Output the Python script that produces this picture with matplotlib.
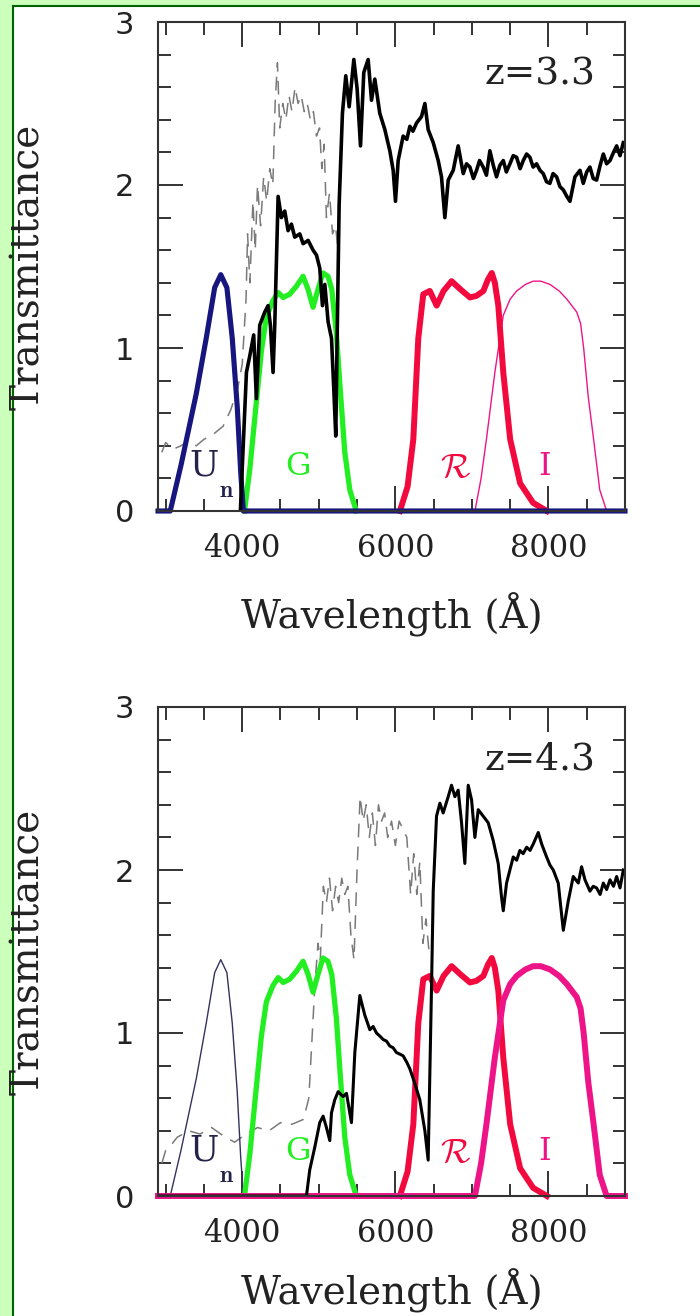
import matplotlib
matplotlib.use("Agg")
import matplotlib.pyplot as plt
from matplotlib.patches import Rectangle
from matplotlib.ticker import MultipleLocator

plt.rcParams["mathtext.fontset"] = "cm"

# filter curves (wavelength in Angstrom, transmittance)
un_wave = [2900, 3060, 3200, 3300, 3400, 3530, 3640, 3720, 3800, 3870, 3935, 3980, 4015, 9000]
un_trans = [0, 0, 0.28, 0.5, 0.72, 1.06, 1.37, 1.45, 1.37, 1.06, 0.64, 0.24, 0, 0]

g_wave = [4030, 4100, 4185, 4250, 4315, 4400, 4470, 4535, 4620, 4710, 4795, 4860, 4925,
          4990, 5055, 5120, 5170, 5230, 5275, 5340, 5405, 5490]
g_trans = [0, 0.26, 0.67, 0.98, 1.19, 1.29, 1.34, 1.31, 1.33, 1.38, 1.44, 1.36, 1.25,
           1.36, 1.46, 1.44, 1.36, 1.09, 0.78, 0.36, 0.13, 0]

r_wave = [6060, 6160, 6235, 6300, 6365, 6450, 6540, 6630, 6735, 6850, 6975, 7060, 7150,
          7210, 7260, 7300, 7345, 7410, 7500, 7630, 7800, 7980]
r_trans = [0, 0.15, 0.44, 1.06, 1.33, 1.35, 1.26, 1.35, 1.41, 1.36, 1.31, 1.32, 1.35,
           1.42, 1.46, 1.4, 1.26, 0.85, 0.44, 0.17, 0.05, 0]

i_wave = [2900, 7040, 7120, 7190, 7300, 7410, 7500, 7585, 7700, 7800, 7900, 8020, 8140,
          8240, 8370, 8420, 8460, 8520, 8590, 8670, 8760, 9000]
i_trans = [0, 0, 0.2, 0.44, 0.85, 1.2, 1.3, 1.35, 1.39, 1.41, 1.41, 1.39, 1.35,
           1.3, 1.22, 1.15, 1.0, 0.7, 0.44, 0.13, 0, 0]

# galaxy spectrum at z=3.3
spec33_wave = [3976, 4055, 4098, 4150, 4185, 4229, 4294, 4338, 4368, 4403, 4425, 4469, 4512,
               4556, 4599, 4643, 4686, 4752, 4795, 4861, 4926, 4970, 5013, 5048, 5079, 5122,
               5166, 5196, 5222, 5240, 5266, 5309, 5353, 5397, 5458, 5501, 5545, 5588, 5645,
               5689, 5732, 5797, 5863, 5928, 5972, 6002, 6037, 6102, 6150, 6190, 6230, 6277,
               6342, 6386, 6429, 6495, 6560, 6603, 6647, 6691, 6756, 6821, 6887, 6930, 6974,
               7020, 7061, 7100, 7148, 7190, 7235, 7280, 7322, 7365, 7410, 7450, 7497, 7540,
               7584, 7630, 7671, 7715, 7758, 7800, 7845, 7890, 7932, 7975, 8019, 8060, 8107,
               8150, 8194, 8240, 8281, 8346, 8412, 8455, 8500, 8542, 8585, 8629, 8675, 8717,
               8760, 8804, 8850, 8891, 8935, 8978]
spec33_trans = [0, 0.85, 0.95, 1.08, 0.69, 1.14, 1.22, 1.26, 1.14, 0.85, 1.14, 1.93, 1.80,
                1.84, 1.72, 1.76, 1.68, 1.70, 1.64, 1.66, 1.60, 1.57, 1.49, 1.26, 1.39, 1.16,
                1.06, 0.75, 0.46, 1.06, 1.88, 2.44, 2.67, 2.48, 2.77, 2.59, 2.24, 2.69, 2.77,
                2.52, 2.65, 2.44, 2.34, 2.21, 2.09, 1.90, 2.15, 2.30, 2.28, 2.36, 2.33, 2.38,
                2.42, 2.50, 2.34, 2.26, 2.15, 2.05, 1.80, 2.03, 2.09, 2.24, 2.07, 2.13, 2.11,
                2.04, 2.09, 2.15, 2.11, 2.06, 2.21, 2.12, 2.05, 2.12, 2.15, 2.08, 2.13, 2.18,
                2.17, 2.10, 2.15, 2.19, 2.17, 2.11, 2.13, 2.09, 2.07, 2.02, 2.01, 2.07, 2.05,
                1.99, 1.97, 1.93, 1.90, 2.05, 2.09, 2.01, 2.08, 2.11, 2.04, 2.03, 2.12, 2.19,
                2.13, 2.15, 2.20, 2.24, 2.18, 2.26]

# unattenuated spectrum at z=3.3 (dashed)
free33_wave = [2950, 3000, 3100, 3200, 3300, 3400, 3500, 3620, 3750, 3850, 3940, 4000, 4050,
               4070, 4100, 4140, 4170, 4200, 4240, 4280, 4320, 4360, 4400, 4430, 4460, 4490,
               4530, 4570, 4610, 4650, 4690, 4730, 4770, 4810, 4850, 4890, 4930, 4970, 5010,
               5040, 5070, 5100, 5140, 5180, 5220, 5250]
free33_trans = [0.36, 0.42, 0.38, 0.40, 0.43, 0.40, 0.44, 0.47, 0.52, 0.62, 0.75, 0.9, 1.3,
                1.7, 1.4, 1.9, 1.6, 2.0, 1.75, 2.05, 1.9, 2.1, 2.0, 2.5, 2.75, 2.35,
                2.5, 2.4, 2.55, 2.45, 2.6, 2.5, 2.55, 2.45, 2.5, 2.4, 2.45, 2.3, 2.35,
                2.1, 2.25, 1.8, 1.95, 1.7, 1.75, 1.6]

# galaxy spectrum at z=4.3
spec43_wave = [2900, 4839, 4882, 4948, 5013, 5057, 5100, 5144, 5166, 5209, 5253, 5318, 5362,
               5427, 5471, 5536, 5601, 5667, 5710, 5754, 5800, 5841, 5885, 5928, 5970, 6015,
               6060, 6102, 6150, 6190, 6255, 6320, 6386, 6429, 6473, 6495, 6538, 6582, 6625,
               6691, 6734, 6778, 6821, 6865, 6908, 6952, 6996, 7039, 7083, 7148, 7213, 7279,
               7344, 7388, 7410, 7453, 7540, 7585, 7627, 7670, 7715, 7760, 7802, 7867, 7911,
               7976, 8020, 8063, 8128, 8194, 8259, 8324, 8390, 8433, 8477, 8542, 8585, 8629,
               8675, 8717, 8760, 8804, 8850, 8891, 8935, 8978]
spec43_trans = [0, 0, 0.16, 0.30, 0.45, 0.49, 0.42, 0.34, 0.51, 0.59, 0.64, 0.61, 0.63,
                0.45, 0.88, 1.23, 1.11, 1.02, 1.04, 1.00, 0.98, 0.96, 0.95, 0.92, 0.91, 0.88,
                0.87, 0.86, 0.82, 0.78, 0.69, 0.59, 0.40, 0.22, 1.29, 1.87, 2.33, 2.41, 2.35,
                2.45, 2.52, 2.45, 2.49, 2.29, 2.04, 2.52, 2.43, 2.20, 2.37, 2.33, 2.29, 2.18,
                2.04, 1.83, 1.75, 1.92, 2.08, 2.06, 2.12, 2.10, 2.14, 2.12, 2.16, 2.23, 2.16,
                2.08, 2.03, 2.00, 1.92, 1.63, 1.81, 1.96, 1.92, 2.02, 1.94, 1.87, 1.90, 1.89,
                1.85, 1.92, 1.88, 1.94, 1.90, 1.96, 1.89, 2.00]

# unattenuated spectrum at z=4.3 (dashed)
free43_wave = [2950, 3000, 3050, 3150, 3300, 3450, 3600, 3750, 3900, 4050, 4200, 4350, 4500,
               4650, 4800, 4870, 4910, 4950, 4990, 5020, 5060, 5100, 5140, 5180, 5220, 5260,
               5300, 5340, 5380, 5420, 5460, 5500, 5540, 5580, 5620, 5660, 5700, 5740, 5780,
               5820, 5860, 5900, 5950, 6000, 6050, 6100, 6150, 6200, 6240, 6280, 6320, 6360,
               6400, 6440]
free43_trans = [0.2, 0.28, 0.3, 0.36, 0.4, 0.38, 0.42, 0.37, 0.33, 0.38, 0.42, 0.4, 0.45,
                0.44, 0.47, 0.6, 0.95, 1.3, 1.55, 1.45, 1.9, 1.8, 1.95, 1.75, 1.9, 1.8,
                1.95, 1.85, 1.9, 1.6, 1.45, 2.0, 2.45, 2.3, 2.4, 2.2, 2.35, 2.15, 2.4,
                2.3, 2.35, 2.2, 2.3, 2.15, 2.3, 2.25, 2.2, 1.85, 2.1, 1.85, 2.05, 1.55,
                1.7, 1.5]

redshift_labels = ["z=3.3", "z=4.3"]

NAVY = "#16167e"
GREEN = "#22ee22"
RED = "#f20a3e"
MAGENTA = "#ee1488"
DASH = (0, (9, 6))
W, H = 700, 1316

fig = plt.figure(figsize=(W / 100, H / 100), dpi=100)
fig.patch.set_facecolor("#ccffbb")
fig.add_artist(Rectangle((12.5 / W, -0.05), 1.1, 1 - 6 / H + 0.05, transform=fig.transFigure,
                         facecolor="white", edgecolor="#006400", linewidth=1.5, zorder=-1))

def style_axes(ax, xlabel_y):
    ax.set_xlim(2900, 9000)
    ax.set_ylim(0, 3)
    ax.set_xticks([4000, 6000, 8000])
    ax.set_yticks([0, 1, 2, 3])
    ax.xaxis.set_minor_locator(MultipleLocator(500))
    ax.yaxis.set_minor_locator(MultipleLocator(0.2))
    ax.tick_params(which="both", direction="in", top=True, right=True, color="#333333", width=1.4)
    ax.tick_params(which="major", length=18)
    ax.tick_params(which="minor", length=9)
    ax.tick_params(axis="x", labelsize=22, pad=16, labelcolor="#222222")
    ax.tick_params(axis="y", labelsize=22, pad=17, labelcolor="#222222")
    for lab in ax.get_xticklabels():
        lab.set_fontfamily("DejaVu Serif")
    for lab in ax.get_yticklabels():
        lab.set_fontfamily("DejaVu Sans")
    for sp in ax.spines.values():
        sp.set_color("#333333")
        sp.set_linewidth(1.5)
    ax.set_xlabel("Wavelength (Å)", fontsize=28, family="DejaVu Serif", color="#222222", va="center")
    ax.xaxis.set_label_coords(0.5, xlabel_y)
    ax.set_ylabel("Transmittance", fontsize=28, family="DejaVu Serif", color="#222222", va="center")
    ax.yaxis.set_label_coords(-0.276, 0.5)

def filter_labels(ax, z_text):
    ax.text(3500, 0.28, "U", fontsize=25, family="DejaVu Serif", color="#22224a", ha="center", va="center")
    ax.text(3790, 0.13, r"$\mathbf{n}$", fontsize=17, color="#22224a", ha="center", va="center")
    ax.text(4730, 0.27, "G", fontsize=23, family="DejaVu Serif", color=GREEN, ha="center", va="center")
    ax.text(6790, 0.27, r"$\mathcal{R}$", fontsize=25, color=RED, ha="center", va="center")
    ax.text(7955, 0.27, "I", fontsize=23, family="DejaVu Serif", color=MAGENTA, ha="center", va="center")
    ax.text(8610, 2.68, z_text, fontsize=27, family="DejaVu Serif", color="#222222", ha="right", va="center")

ax1 = fig.add_axes([158 / W, 1 - 511 / H, 467 / W, 489 / H])
ax1.plot(free33_wave, free33_trans, color="#7a7a7a", lw=1.1, ls=DASH)
ax1.plot(i_wave, i_trans, color=MAGENTA, lw=1.0, clip_on=False)
ax1.plot(g_wave, g_trans, color=GREEN, lw=3.8, clip_on=False)
ax1.plot(r_wave, r_trans, color=RED, lw=4.3, clip_on=False)
ax1.plot(un_wave, un_trans, color=NAVY, lw=3.7, clip_on=False)
ax1.plot(spec33_wave, spec33_trans, color="black", lw=2.6)
filter_labels(ax1, redshift_labels[0])
style_axes(ax1, -0.212)

ax2 = fig.add_axes([158 / W, 1 - 1196 / H, 467 / W, 489 / H])
ax2.plot(free43_wave, free43_trans, color="#7a7a7a", lw=1.1, ls=DASH)
ax2.plot(un_wave, un_trans, color="#33335e", lw=1.0, clip_on=False)
ax2.plot(g_wave, g_trans, color=GREEN, lw=3.8, clip_on=False)
ax2.plot(r_wave, r_trans, color=RED, lw=4.3, clip_on=False)
ax2.plot(i_wave, i_trans, color=MAGENTA, lw=4.3, clip_on=False)
ax2.plot(spec43_wave, spec43_trans, color="black", lw=2.2)
filter_labels(ax2, redshift_labels[1])
style_axes(ax2, -0.194)

fig.savefig("out.png", dpi=100, facecolor=fig.get_facecolor())
